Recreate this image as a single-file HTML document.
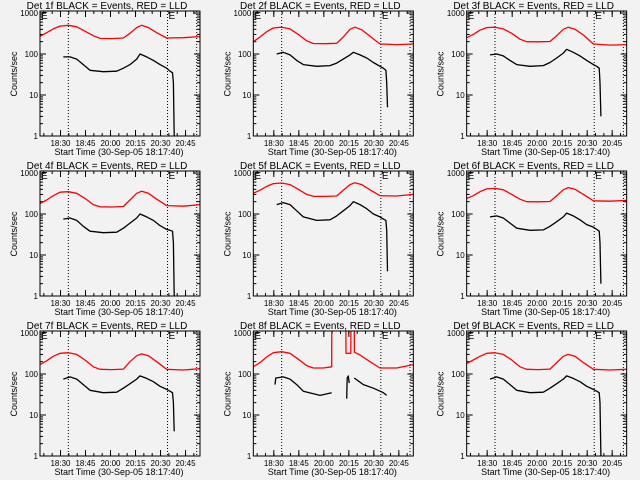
<!DOCTYPE html>
<html><head><meta charset="utf-8"><style>
body{margin:0;background:#f2f2f2;}
svg{display:block;font-family:"Liberation Sans",sans-serif;}
</style></head><body>
<svg id="c" width="640" height="480" viewBox="0 0 640 480"></svg>
<script>
const panelNames = ["1f","2f","3f","4f","5f","6f","7f","8f","9f"];
const xTickLabels = ["18:30","18:45","20:00","20:15","20:30","20:45"];
const xTickMinutes = [12.3,27.3,42.3,57.3,72.3,87.3];
const yTickValues = [1,10,100,1000];
const yTickLabels = ["1","10","100","1000"];
const markerMinutes = [17, 76.5, 94];
const redTimes = [0,4,8,12,17,22,27,32,36,43,50,54,58,61,65,70,76,86,96];
const blackTimes = [14,18,22,26,30,38,46,50,54,58,60,64,68,72,76,78,79.5,80,80.5];
const red1 = [270,330,410,480,500,460,360,280,240,238,245,320,440,500,440,330,245,250,265];
const red2 = [200,260,350,430,450,410,300,210,180,178,182,260,400,450,390,270,175,170,175];
const red3 = [250,300,380,440,450,410,320,230,200,198,202,280,400,450,400,290,175,165,170];
const red4 = [180,220,280,340,350,320,240,170,150,148,152,220,320,360,320,230,160,155,170];
const red5 = [320,380,470,550,570,520,400,300,270,268,275,380,520,580,520,390,280,275,300];
const red6 = [240,280,350,410,420,390,300,230,200,198,202,280,390,440,400,300,210,205,215];
const red7 = [170,210,270,320,330,300,220,150,130,128,132,200,280,310,280,200,130,125,135];
const red9 = [180,220,270,320,330,300,220,150,130,128,132,190,270,300,270,190,130,125,130];
const black1 = [85,85,75,55,40,37,38,45,55,75,100,85,70,55,45,38,35,20,1];
const black2 = [100,110,95,70,55,50,52,60,75,95,110,95,80,62,50,45,40,20,5];
const black3 = [95,100,90,70,55,50,52,62,80,105,130,110,90,70,55,50,45,20,3];
const black4 = [75,80,70,50,38,35,36,45,60,80,100,85,70,52,42,40,38,20,1];
const black5 = [170,190,170,120,85,70,72,90,120,160,200,170,135,100,85,75,70,40,4];
const black6 = [85,90,80,60,45,40,41,50,65,85,105,90,72,55,48,42,38,20,2];
const black7 = [75,85,75,55,40,35,36,45,58,75,90,78,65,50,42,38,35,20,4];
const black9 = [75,85,75,55,40,35,36,45,58,75,90,78,65,50,42,38,35,20,1];
const red8Times = [0,4,8,12,17,22,27,32,36,42,47,47.1,55.5,55.6,58.5,58.6,60.5,60.6,64,70,76,86,96];
const red8 = [150,190,260,330,350,320,230,160,140,140,150,3000,3000,320,320,3000,3000,340,290,200,140,140,170];
const black8Times = [13,13.5,18,22,26,30,40,47,null,56,56.3,57,57.5,null,60.5,66,72,78,80];
const black8 = [55,80,85,75,55,38,30,35,null,25,80,90,60,null,80,55,45,35,30];
const reds = [red1,red2,red3,red4,red5,red6,red7,red8,red9];
const blacks = [black1,black2,black3,black4,black5,black6,black7,black8,black9];

const NS="http://www.w3.org/2000/svg";
const svg=document.getElementById("c");
function mk(tag,attrs,parent){const e=document.createElementNS(NS,tag);for(const k in attrs)e.setAttribute(k,attrs[k]);(parent||svg).appendChild(e);return e;}

for(let p=0;p<9;p++){
  const col=p%3,row=Math.floor(p/3);
  const ox=col*213.33, oy=row*160;
  const L=ox+40,R=ox+200,T=oy+11,B=oy+136;
  const xs=m=>L+m*1.667;
  const ys=v=>B-41*Math.log10(v);
  const g=mk("g",{});
  
  
  const cp=mk("clipPath",{id:"cp"+p},g);
  mk("rect",{x:L,y:T,width:R-L,height:B-T},cp);
  const title=mk("text",{x:ox+107,y:oy+9,"font-size":"10","text-anchor":"middle",fill:"#000"},g);
  title.textContent="Det "+panelNames[p]+" BLACK = Events, RED = LLD";
  
  
  const yt=mk("text",{x:0,y:0,"font-size":"9","text-anchor":"middle",transform:`translate(${ox+17},${oy+74}) rotate(-90)`},g);
  yt.textContent="Counts/sec";
  
  
  const xt=mk("text",{x:ox+119,y:oy+155,"font-size":"9","text-anchor":"middle"},g);
  xt.textContent="Start Time (30-Sep-05 18:17:40)";
  
  
  for(let d=0;d<yTickValues.length;d++){
    const y=ys(yTickValues[d]);
    mk("line",{x1:L,x2:L+6,y1:y,y2:y,stroke:"#000"},g);
    mk("line",{x1:R,x2:R-6,y1:y,y2:y,stroke:"#000"},g);
    const t=mk("text",{x:L-2,y:y+3,"font-size":"8","text-anchor":"end"},g);
    t.textContent=yTickLabels[d];
    
    
    if(d<3)for(let k=2;k<10;k++){const yy=ys(yTickValues[d]*k);
      mk("line",{x1:L,x2:L+3,y1:yy,y2:yy,stroke:"#000"},g);
      mk("line",{x1:R,x2:R-3,y1:yy,y2:yy,stroke:"#000"},g);}
  }
  for(let i=0;i<xTickMinutes.length;i++){
    const x=xs(xTickMinutes[i]);
    mk("line",{x1:x,x2:x,y1:B,y2:B-6,stroke:"#000"},g);
    mk("line",{x1:x,x2:x,y1:T,y2:T+6,stroke:"#000"},g);
    const t=mk("text",{x:x,y:B+10,"font-size":"8","text-anchor":"middle"},g);
    t.textContent=xTickLabels[i];
    
    
  }
  for(let m=2.3;m<96;m+=5){const x=xs(m);
    mk("line",{x1:x,x2:x,y1:B,y2:B-3,stroke:"#000"},g);
    mk("line",{x1:x,x2:x,y1:T,y2:T+3,stroke:"#000"},g);}
  for(const m of markerMinutes){const x=xs(m);
    const l=mk("line",{x1:x,x2:x,y1:T,y2:B,stroke:"#000","stroke-dasharray":"1,2"},g);
    
    }
  mk("text",{x:L+1,y:T+8,"font-size":"10"},g).textContent="E";
  mk("text",{x:xs(markerMinutes[1])+1,y:T+8,"font-size":"10"},g).textContent="E";
  function series(times,vals,color,name){
    let d="",start=true;
    for(let i=0;i<times.length;i++){
      if(times[i]===null||vals[i]===null){start=true;continue;}
      d+=(start?"M":"L")+xs(times[i]).toFixed(1)+","+ys(vals[i]).toFixed(1);start=false;
    }
    const path=mk("path",{d:d,fill:"none",stroke:color,"stroke-width":"1.3","stroke-linejoin":"round","clip-path":"url(#cp"+p+")"},g);
    
    
  }
  series(p===7?red8Times:redTimes,reds[p],"#ff0000","lld-series");
  series(p===7?black8Times:blackTimes,blacks[p],"#000","events-series");
  const box=mk("rect",{x:L,y:T,width:R-L,height:B-T,fill:"none",stroke:"#000"},g);
  
  
}
</script>
</body></html>
